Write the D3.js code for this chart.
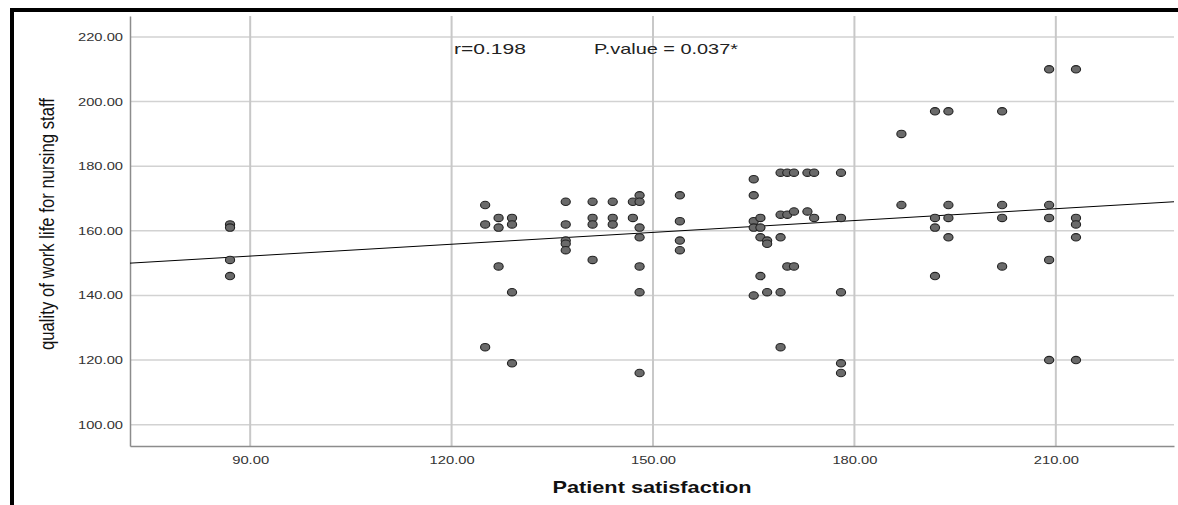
<!DOCTYPE html>
<html>
<head>
<meta charset="utf-8">
<script src="https://cdn.jsdelivr.net/npm/d3@7"></script>
<style>
  body { margin: 0; background: #fff; }
  svg { display: block; font-family: "Liberation Sans", Arial, sans-serif; }
</style>
</head>
<body>
<svg width="1178" height="505"></svg>
<script>
// patient satisfaction (x) and quality of work life (y), one entry per case
const patientSat = [
  87, 87, 87, 87,
  125, 125, 125,
  127, 127, 127,
  129, 129, 129, 129,
  137, 137, 137, 137, 137,
  141, 141, 141, 141,
  144, 144, 144,
  147, 147,
  148, 148, 148, 148, 148, 148, 148,
  154, 154, 154, 154,
  165, 165, 165, 165, 165,
  166, 166, 166, 166,
  167, 167, 167,
  169, 169, 169, 169, 169,
  170, 170, 170,
  171, 171, 171,
  173, 173,
  174, 174,
  178, 178, 178, 178, 178,
  187, 187,
  192, 192, 192, 192,
  194, 194, 194, 194,
  202, 202, 202, 202,
  209, 209, 209, 209, 209,
  213, 213, 213, 213, 213
];
const workLife = [
  162, 161, 151, 146,
  168, 162, 124,
  164, 161, 149,
  164, 162, 141, 119,
  169, 162, 157, 156, 154,
  169, 164, 162, 151,
  169, 164, 162,
  169, 164,
  171, 169, 161, 158, 149, 141, 116,
  171, 163, 157, 154,
  176, 171, 163, 161, 140,
  164, 161, 158, 146,
  157, 156, 141,
  178, 165, 158, 141, 124,
  178, 165, 149,
  178, 166, 149,
  178, 166,
  178, 164,
  178, 164, 141, 119, 116,
  190, 168,
  197, 164, 161, 146,
  197, 168, 164, 158,
  197, 168, 164, 149,
  210, 168, 164, 151, 120,
  210, 164, 162, 158, 120
];
const xTicks = [90, 120, 150, 180, 210];
const yTicks = [100, 120, 140, 160, 180, 200, 220];
// fit line ends
const fitX = [72.1, 227.6];
const fitY = [150.0, 169.0];

const svg = d3.select("svg");

const x = d3.scaleLinear().domain([72.1, 227.6]).range([130, 1174]);
const y = d3.scaleLinear().domain([93.4, 226.5]).range([446, 16]);

// frame edges
svg.append("rect").attr("x", 10).attr("y", 8).attr("width", 1168).attr("height", 4).style("fill", "#000");
svg.append("rect").attr("x", 10).attr("y", 8).attr("width", 4).attr("height", 497).style("fill", "#000");

// grid
svg.append("g").selectAll("line").data(yTicks).join("line")
  .attr("x1", x.range()[0]).attr("x2", x.range()[1])
  .attr("y1", d => y(d)).attr("y2", d => y(d))
  .style("stroke", "#d2d2d2").style("stroke-width", 1.5);
svg.append("g").selectAll("line").data(xTicks).join("line")
  .attr("x1", d => x(d)).attr("x2", d => x(d))
  .attr("y1", y.range()[0]).attr("y2", y.range()[1])
  .style("stroke", "#c8c8c8").style("stroke-width", 2);

// axes
const xAxis = svg.append("g").attr("transform", "translate(0,446)")
  .call(d3.axisBottom(x).tickValues(xTicks).tickSize(0).tickPadding(10).tickFormat(d3.format(".2f")));
const yAxis = svg.append("g").attr("transform", "translate(130,0)")
  .call(d3.axisLeft(y).tickValues(yTicks).tickSize(0).tickPadding(7).tickFormat(d3.format(".2f")));
[xAxis, yAxis].forEach(a => {
  a.select(".domain").style("stroke", "#8c8c8c").style("stroke-width", 1.5);
  a.selectAll("text").style("font-size", "11px").style("fill", "#333")
    .attr("textLength", d => d >= 100 ? 45 : 37).attr("lengthAdjust", "spacingAndGlyphs");
});

// fit line
svg.append("line")
  .attr("x1", x(fitX[0])).attr("y1", y(fitY[0]))
  .attr("x2", x(fitX[1])).attr("y2", y(fitY[1]))
  .style("stroke", "#000").style("stroke-width", 1);

// points
svg.append("g").selectAll("ellipse").data(patientSat).join("ellipse")
  .attr("cx", d => x(d))
  .attr("cy", (d, i) => y(workLife[i]))
  .attr("rx", 4.6).attr("ry", 3.7)
  .style("fill", "#6a6a6a").style("stroke", "#222").style("stroke-width", 1.1);

// annotations
svg.append("text").attr("x", 454).attr("y", 54).text("r=0.198")
  .style("font-size", "15px").style("fill", "#222")
  .attr("textLength", 72).attr("lengthAdjust", "spacingAndGlyphs");
svg.append("text").attr("x", 594).attr("y", 54).text("P.value = 0.037*")
  .style("font-size", "15px").style("fill", "#222")
  .attr("textLength", 144).attr("lengthAdjust", "spacingAndGlyphs");

// titles
svg.append("text").attr("x", 652).attr("y", 493).attr("text-anchor", "middle")
  .text("Patient satisfaction")
  .style("font-size", "17px").style("font-weight", "bold").style("fill", "#111")
  .attr("textLength", 199).attr("lengthAdjust", "spacingAndGlyphs");
svg.append("text").attr("transform", "translate(54,224) rotate(-90)").attr("text-anchor", "middle")
  .text("quality of work life for nursing staff")
  .style("font-size", "20px").style("fill", "#111")
  .attr("textLength", 252).attr("lengthAdjust", "spacingAndGlyphs");
</script>
</body>
</html>
